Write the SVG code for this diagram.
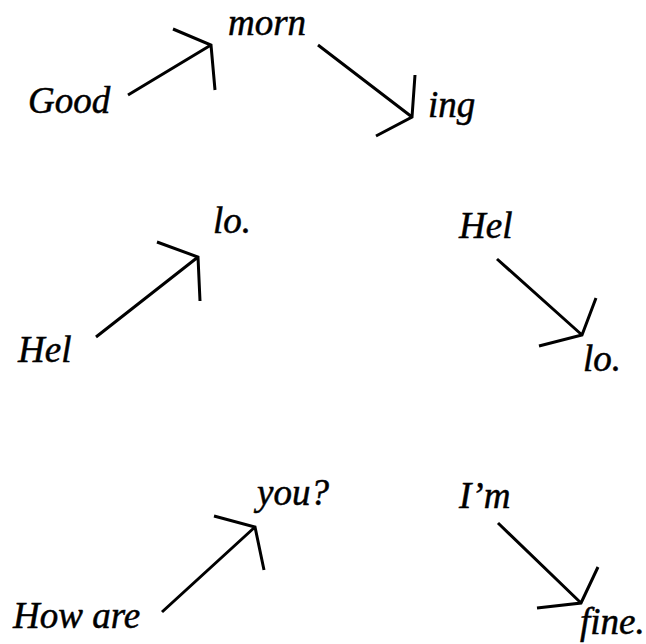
<svg xmlns="http://www.w3.org/2000/svg" width="646" height="644" viewBox="0 0 646 644">
<style>
.t{font-family:"Liberation Serif","Times New Roman",serif;font-style:italic;font-size:37px;fill:#000;stroke:#000;stroke-width:0.5}
.c path{fill:none;stroke:#000;stroke-width:3;stroke-linejoin:miter;stroke-linecap:butt}
</style>
<rect width="646" height="644" fill="#fff"/>
<g id="good"><text class="t" x="28" y="113">Good</text></g>
<g id="morn"><text class="t" x="228" y="35">morn</text></g>
<g id="ing"><text class="t" x="428" y="117">ing</text></g>
<g id="hel1"><text class="t" x="18" y="362">Hel</text></g>
<g id="lo1"><text class="t" x="213" y="233">lo.</text></g>
<g id="hel2"><text class="t" x="459" y="238">Hel</text></g>
<g id="lo2"><text class="t" x="583" y="371">lo.</text></g>
<g id="howare"><text class="t" x="13" y="628">How are</text></g>
<g id="you"><text class="t" x="257" y="505">you?</text></g>
<g id="im"><text class="t" x="459" y="508">I’m</text></g>
<g id="fine"><text class="t" x="580" y="634">fine.</text></g>
<g id="connectors" class="c">
<path d="M128,95 L211,45 M173,29 L211,45 L215,90"/>
<path d="M318,45 L412,117 M415,75 L412,117 L376,136"/>
<path d="M96,337 L198,257 M157,242 L198,257 L200,301"/>
<path d="M497,259 L582,335 M596,298 L582,335 L539,346"/>
<path d="M162,612 L255,527 M214,516 L255,527 L264,570"/>
<path d="M498,523 L581,603 M598,567 L581,603 L537,608"/>
</g>
</svg>
